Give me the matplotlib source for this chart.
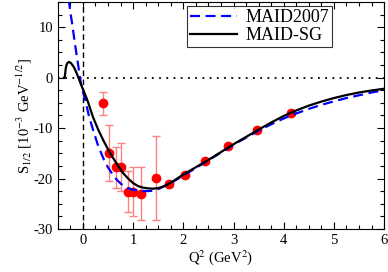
import matplotlib
matplotlib.use("Agg")
import matplotlib.pyplot as plt
from matplotlib.ticker import MultipleLocator, FuncFormatter

plt.rcParams['font.family'] = ['Liberation Serif', 'DejaVu Serif']
plt.rcParams['mathtext.fontset'] = 'stix'
plt.rcParams['axes.unicode_minus'] = False

# data points (Q^2, S1/2, error)
q2_data = [0.40, 0.525, 0.65, 0.75, 0.895, 0.995, 1.15, 1.45, 1.71, 2.04, 2.43, 2.90, 3.47, 4.15]
s_data = [-5.1, -14.9, -17.8, -17.7, -22.6, -22.6, -23.0, -19.9, -21.1, -19.2, -16.6, -13.5, -10.3, -7.0]
s_err = [2.3, 5.6, 4.0, 4.7, 4.0, 4.9, 5.2, 8.3, 0.6, 0.5, 0.4, 0.4, 0.4, 0.4]

# MAID2007 curve
q2_maid = [-0.32, -0.28, -0.24, -0.21, -0.17, -0.13, -0.09, -0.06, -0.03, 0.0, 0.05, 0.12, 0.2, 0.3,
           0.42, 0.5, 0.62, 0.7, 0.8, 0.9, 1.0, 1.1, 1.28, 1.4, 1.5, 1.6, 1.7, 1.8, 2.0, 2.5,
           3.0, 3.5, 3.75, 4.0, 4.25, 4.5, 4.75, 5.0, 5.25, 5.5, 5.75, 6.0]
s_maid = [19.0, 15.3, 12.3, 10.4, 7.5, 4.8, 2.2, 0.0, -1.5, -2.8, -4.6, -7.6, -10.3, -13.4,
          -16.3, -17.8, -19.6, -20.5, -21.4, -21.9, -22.2, -22.4, -22.5, -22.4, -22.1, -21.6, -21.1, -20.6, -19.4, -16.4,
          -13.3, -10.5, -9.25, -8.1, -7.1, -6.2, -5.4, -4.7, -4.05, -3.5, -2.95, -2.5]

# MAID-SG curve
q2_sg = [-0.38, -0.36, -0.345, -0.33, -0.31, -0.28, -0.24, -0.18, -0.13, -0.09, -0.04, 0.0, 0.05, 0.1,
         0.2, 0.3, 0.4, 0.5, 0.6, 0.7, 0.8, 0.9, 1.0, 1.1, 1.2, 1.3, 1.4, 1.5, 1.6, 1.7,
         1.8, 2.0, 2.5, 3.0, 3.5, 3.75, 4.0, 4.25, 4.5, 4.75, 5.0, 5.25, 5.5, 5.75, 6.0]
s_sg = [0.0, 0.2, 1.6, 2.4, 2.9, 3.1, 2.9, 2.1, 1.0, 0.0, -1.3, -2.3, -3.5, -4.8,
        -7.8, -10.2, -12.3, -14.2, -15.9, -17.5, -18.9, -20.0, -20.9, -21.5, -21.8, -21.95, -22.0, -21.9, -21.6, -21.1,
        -20.5, -19.2, -16.3, -13.2, -10.3, -8.9, -7.6, -6.5, -5.55, -4.75, -4.05, -3.45, -2.95, -2.55, -2.2]

fig = plt.figure(figsize=(3.88, 2.72), dpi=100)
ax = fig.add_axes([0.149, 0.158, 0.841, 0.835])

ax.axhline(0, color='black', ls=(0, (1, 3)), lw=1.3, zorder=1)
ax.axvline(0, color='black', ls=(0, (4, 2.5)), lw=1.0, zorder=1)

ax.errorbar(q2_data, s_data, yerr=s_err, fmt='o', color='red', ms=6, mec='red',
            ecolor='#ff8080', elinewidth=1.0, capsize=3, capthick=1.0, zorder=3)

ax.plot(q2_maid, s_maid, color='blue', ls=(0, (4.5, 2.5)), lw=1.6, label='MAID2007', zorder=4)
ax.plot(q2_sg, s_sg, color='black', lw=1.6, label='MAID-SG', zorder=5)

ax.set_xlim(-0.5, 6)
ax.set_ylim(-30, 15)
ax.xaxis.set_major_locator(MultipleLocator(1))
ax.xaxis.set_minor_locator(MultipleLocator(0.25))
ax.yaxis.set_major_locator(MultipleLocator(10))
ax.yaxis.set_minor_locator(MultipleLocator(2.5))
ax.yaxis.set_major_formatter(FuncFormatter(lambda v, p: f"{v:g}"))
ax.tick_params(which='both', direction='in', top=True, right=True, labelsize=10.5)
ax.tick_params(which='major', length=5, width=0.8)
ax.tick_params(which='minor', length=3, width=0.8)

ax.set_xlabel('Q$^2$ (GeV$^2$)', fontsize=10.5, labelpad=1)
ax.set_ylabel('S$_{1/2}$ [10$^{-3}$ GeV$^{-1/2}$]', fontsize=10.5, labelpad=0)

leg = ax.legend(loc='upper right', bbox_to_anchor=(0.84, 0.98), fontsize=13, frameon=True,
                fancybox=False, edgecolor='black', handlelength=2.6, borderpad=0.15,
                labelspacing=0.05, handletextpad=0.5, borderaxespad=0)
leg.get_frame().set_linewidth(0.8)

fig.savefig('out.png', dpi=100)
